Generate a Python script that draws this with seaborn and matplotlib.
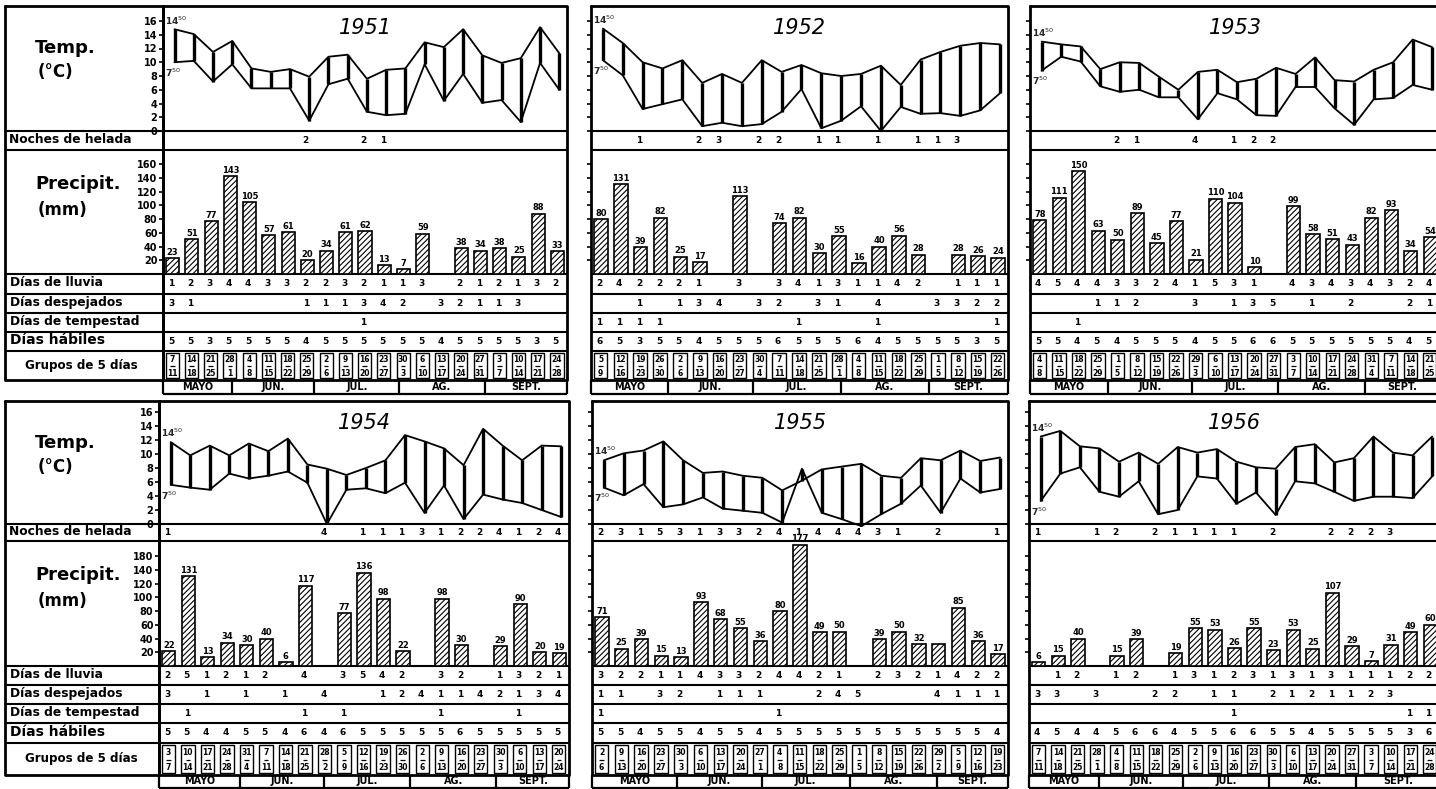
import datetime as dt
import numpy as np
import pandas as pd
import matplotlib
matplotlib.use("Agg")
import matplotlib.pyplot as plt
import seaborn as sns
from matplotlib.patches import Rectangle

W, H = 1436, 789
YEARS = [1951, 1952, 1953, 1954, 1955, 1956]

# lunes del primer grupo de 5 dias de cada campaña
FIRST_MONDAY = {1951: "1951-05-07", 1952: "1952-05-05", 1953: "1953-05-04",
                1954: "1954-05-03", 1955: "1955-05-02", 1956: "1956-05-07"}

# temperatura a las 14.50 y a las 7.50 (ºC), una por grupo
T1450 = {
    1951: [14.8, 14.1, 11.5, 13.1, 9.1, 8.6, 9.0, 7.9, 10.8, 11.1, 7.6, 8.9, 9.1, 12.9, 12.2, 14.8, 11.0, 9.9, 10.6, 15.1, 11.3],
    1952: [14.9, 12.8, 10.0, 9.1, 10.3, 7.0, 8.3, 7.0, 10.3, 8.6, 9.6, 8.4, 8.0, 8.3, 9.5, 6.7, 10.4, 11.5, 12.4, 12.8, 12.6],
    1953: [13.0, 12.6, 12.3, 9.0, 10.0, 9.9, 7.9, 6.0, 8.6, 8.9, 7.1, 7.6, 9.2, 8.3, 10.7, 7.4, 7.2, 8.9, 10.0, 13.3, 12.2],
    1954: [11.7, 9.8, 11.2, 9.8, 11.5, 10.4, 12.2, 8.5, 7.9, 7.0, 8.0, 9.1, 12.7, 11.8, 10.8, 8.4, 13.6, 11.2, 9.1, 11.2, 11.1],
    1955: [9.1, 10.1, 10.5, 11.8, 9.1, 7.3, 7.5, 6.9, 6.6, 4.8, 6.2, 7.8, 8.2, 8.6, 6.9, 6.6, 9.4, 9.1, 10.5, 9.0, 9.5],
    1956: [12.5, 13.3, 11.1, 10.8, 8.9, 10.2, 8.6, 11.0, 10.2, 10.7, 8.9, 8.1, 7.9, 11.0, 11.4, 8.8, 9.4, 12.5, 10.2, 9.8, 12.5],
}
T0750 = {
    1951: [10.0, 10.2, 7.2, 9.7, 6.2, 6.2, 6.2, 1.5, 6.8, 7.6, 2.8, 2.3, 2.5, 9.7, 4.4, 8.3, 4.1, 4.5, 1.3, 9.9, 6.0],
    1952: [10.3, 8.1, 3.2, 3.9, 4.6, 0.7, 1.2, 0.7, 1.0, 2.8, 6.1, 0.4, 1.5, 3.6, 0.0, 3.5, 2.5, 2.6, 2.2, 3.0, 5.5],
    1953: [8.8, 10.8, 10.1, 6.5, 5.7, 6.0, 4.9, 4.9, 1.7, 5.5, 4.6, 2.3, 2.2, 6.4, 6.4, 3.3, 0.9, 4.6, 4.8, 6.7, 6.0],
    1954: [5.6, 5.2, 4.9, 7.2, 6.5, 6.9, 7.5, 5.9, 0.0, 4.9, 5.1, 4.4, 5.9, 1.6, 5.5, 0.7, 4.2, 3.5, 3.0, 2.0, 1.0],
    1955: [5.2, 4.1, 5.7, 2.4, 2.8, 3.8, 2.2, 1.9, 1.6, 0.2, 7.9, 1.6, 0.7, -0.3, 1.4, 2.9, 5.5, 1.6, 6.5, 4.5, 5.0],
    1956: [3.3, 7.2, 8.1, 4.6, 3.9, 6.1, 1.4, 2.0, 6.8, 6.5, 2.9, 4.5, 1.3, 6.1, 5.8, 4.6, 3.3, 3.9, 3.9, 3.7, 6.8],
}

# precipitacion (mm) por grupo, None = sin barra
PRECIP = {
    1951: [23, 51, 77, 143, 105, 57, 61, 20, 34, 61, 62, 13, 7, 59, None, 38, 34, 38, 25, 88, 33],
    1952: [80, 131, 39, 82, 25, 17, None, 113, None, 74, 82, 30, 55, 16, 40, 56, 28, None, 28, 26, 24],
    1953: [78, 111, 150, 63, 50, 89, 45, 77, 21, 110, 104, 10, None, 99, 58, 51, 43, 82, 93, 34, 54],
    1954: [22, 131, 13, 34, 30, 40, 6, 117, None, 77, 136, 98, 22, None, 98, 30, None, 29, 90, 20, 19],
    1955: [71, 25, 39, 15, 13, 93, 68, 55, 36, 80, 177, 49, 50, None, 39, 50, 32, 32, 85, 36, 17],
    1956: [6, 15, 40, None, 15, 39, None, 19, 55, 53, 26, 55, 23, 53, 25, 107, 29, 7, 31, 49, 60],
}
UNLABELED_BARS = {1955: [17]}

# filas de conteo (0 = casilla vacia)
HELADA = {
    1951: [0, 0, 0, 0, 0, 0, 0, 2, 0, 0, 2, 1, 0, 0, 0, 0, 0, 0, 0, 0, 0],
    1952: [0, 0, 1, 0, 0, 2, 3, 0, 2, 2, 0, 1, 1, 0, 1, 0, 1, 1, 3, 0, 0],
    1953: [0, 0, 0, 0, 2, 1, 0, 0, 4, 0, 1, 2, 2, 0, 0, 0, 0, 0, 0, 0, 0],
    1954: [1, 0, 0, 0, 0, 0, 0, 0, 4, 0, 1, 1, 1, 3, 1, 2, 2, 4, 1, 2, 4],
    1955: [2, 3, 1, 5, 3, 1, 3, 3, 2, 4, 1, 4, 4, 4, 3, 1, 0, 2, 0, 0, 1],
    1956: [1, 0, 0, 1, 2, 0, 2, 1, 1, 1, 1, 0, 2, 0, 0, 2, 2, 2, 3, 0, 0],
}
LLUVIA = {
    1951: [1, 2, 3, 4, 4, 3, 3, 2, 2, 3, 2, 1, 1, 3, 0, 2, 1, 2, 1, 3, 2],
    1952: [2, 4, 2, 2, 2, 1, 0, 3, 0, 3, 4, 1, 3, 1, 1, 4, 2, 0, 1, 1, 1],
    1953: [4, 5, 4, 4, 3, 3, 2, 4, 1, 5, 3, 1, 0, 4, 3, 4, 3, 4, 3, 2, 4],
    1954: [2, 5, 1, 2, 1, 2, 0, 4, 0, 3, 5, 4, 2, 0, 3, 2, 0, 1, 3, 2, 1],
    1955: [3, 2, 2, 1, 1, 4, 3, 3, 2, 4, 4, 2, 1, 0, 2, 3, 2, 1, 4, 2, 2],
    1956: [0, 1, 2, 0, 1, 2, 0, 1, 3, 1, 2, 3, 1, 3, 1, 3, 1, 1, 1, 2, 2],
}
DESPEJADOS = {
    1951: [3, 1, 0, 0, 0, 0, 0, 1, 1, 1, 3, 4, 2, 0, 3, 2, 1, 1, 3, 0, 0],
    1952: [0, 0, 1, 0, 1, 3, 4, 0, 3, 2, 0, 3, 1, 0, 4, 0, 0, 3, 3, 2, 2],
    1953: [0, 0, 0, 1, 1, 2, 0, 0, 3, 0, 1, 3, 5, 0, 1, 0, 2, 0, 0, 2, 1],
    1954: [3, 0, 1, 0, 1, 0, 1, 0, 4, 0, 0, 1, 2, 4, 1, 1, 4, 2, 1, 3, 4],
    1955: [1, 1, 0, 3, 2, 0, 1, 1, 1, 0, 0, 2, 4, 5, 0, 0, 0, 4, 1, 1, 1],
    1956: [3, 3, 0, 3, 0, 0, 2, 2, 0, 1, 1, 0, 2, 1, 2, 1, 1, 2, 3, 0, 0],
}
TEMPESTAD = {
    1951: [0, 0, 0, 0, 0, 0, 0, 0, 0, 0, 1, 0, 0, 0, 0, 0, 0, 0, 0, 0, 0],
    1952: [1, 1, 1, 1, 0, 0, 0, 0, 0, 0, 1, 0, 0, 0, 1, 0, 0, 0, 0, 0, 1],
    1953: [0, 0, 1, 0, 0, 0, 0, 0, 0, 0, 0, 0, 0, 0, 0, 0, 0, 0, 0, 0, 0],
    1954: [0, 1, 0, 0, 0, 0, 0, 1, 0, 1, 0, 0, 0, 0, 1, 0, 0, 0, 1, 0, 0],
    1955: [1, 0, 0, 0, 0, 0, 0, 0, 0, 1, 0, 0, 0, 0, 0, 0, 0, 0, 0, 0, 0],
    1956: [0, 0, 0, 0, 0, 0, 0, 0, 0, 0, 1, 0, 0, 0, 0, 0, 0, 0, 0, 1, 1],
}
HABILES = {
    1951: [5, 5, 3, 5, 5, 5, 5, 4, 5, 5, 5, 5, 5, 5, 4, 5, 5, 5, 5, 3, 5],
    1952: [6, 5, 3, 5, 5, 4, 5, 5, 5, 6, 5, 5, 5, 6, 4, 5, 5, 5, 5, 3, 5],
    1953: [5, 5, 4, 5, 4, 5, 5, 5, 4, 5, 5, 6, 6, 5, 5, 5, 5, 5, 5, 4, 5],
    1954: [5, 5, 4, 4, 5, 5, 4, 6, 4, 6, 5, 5, 5, 5, 5, 6, 5, 5, 5, 5, 5],
    1955: [5, 5, 4, 5, 5, 4, 5, 5, 4, 5, 5, 5, 5, 5, 5, 5, 5, 5, 5, 5, 4],
    1956: [4, 5, 4, 4, 5, 6, 6, 4, 5, 5, 6, 6, 5, 5, 4, 5, 5, 5, 5, 3, 6],
}

MONTHS = ["MAYO", "JUN.", "JUL.", "AG.", "SEPT."]
TEMP_TICKS = [0, 2, 4, 6, 8, 10, 12, 14, 16]
PREC_TICKS = [20, 40, 60, 80, 100, 120, 140, 160]
PREC_LABELS = [["20", "40", "60", "80", "100", "120", "140", "160"],
               ["20", "40", "60", "80", "100", "120", "140", "180"]]
ROW_NAMES = ["Días de lluvia", "Días despejados", "Días de tempestad", "Días hábiles"]

# geometria en pixeles
ROW_GEOM = [
    dict(top=6, zero=131, frost=150, base=274, lines=[294, 313, 332, 351], grp=380, mon=394, y16=21),
    dict(top=401, zero=524, frost=541, base=666, lines=[685, 704, 723, 743], grp=775, mon=788, y16=412),
]
PANEL_X = [[(163, 567), (591, 1008), (1030, 1440)],
           [(159, 569), (592, 1008), (1029, 1440)]]
PX_PER_MM = 0.686

sns.set_theme(style="white")
plt.rcParams["font.family"] = ["DejaVu Sans"]
plt.rcParams["hatch.linewidth"] = 0.8
plt.rcParams["hatch.color"] = "black"

fig = plt.figure(figsize=(W / 100, H / 100), dpi=100)
fig.patch.set_facecolor("white")


def px_axes(x0, y0, x1, y1):
    ax = fig.add_axes([x0 / W, 1 - y1 / H, (x1 - x0) / W, (y1 - y0) / H])
    ax.set_facecolor("none")
    for s in ax.spines.values():
        s.set_visible(False)
    return ax


def label_column(g, x1):
    ax = px_axes(5, g["top"], x1, g["grp"])
    ax.set_xlim(5, x1)
    ax.set_ylim(g["grp"], g["top"])
    ax.axis("off")
    ax.plot([5, x1, x1, 5, 5], [g["top"], g["top"], g["grp"], g["grp"], g["top"]],
            color="black", lw=2, clip_on=False)
    for y in [g["zero"], g["frost"], g["base"]] + g["lines"]:
        ax.hlines(y, 5, x1, color="black", lw=1.5)
    kw = dict(fontweight="bold", color="black", va="center", ha="left")
    ax.text(35, g["top"] + 42, "Temp.", fontsize=13, **kw)
    ax.text(38, g["top"] + 66, "(°C)", fontsize=12, **kw)
    ax.text(9, (g["zero"] + g["frost"]) / 2 - 1, "Noches de helada", fontsize=8.8, **kw)
    ax.text(35, g["frost"] + 34, "Precipit.", fontsize=13, **kw)
    ax.text(38, g["frost"] + 60, "(mm)", fontsize=12, **kw)
    edges = [g["base"]] + g["lines"]
    for k, name in enumerate(ROW_NAMES):
        ax.text(10, (edges[k] + edges[k + 1]) / 2 - 1, name,
                fontsize=10 if k == 3 else 8.8, **kw)
    ax.text(25, (g["lines"][-1] + g["grp"]) / 2, "Grupos de 5 días", fontsize=8.6, **kw)


def draw_panel(year, r, c):
    g = ROW_GEOM[r]
    x0, x1 = PANEL_X[r][c]
    n = len(T1450[year])
    pos = np.arange(n, dtype=float)
    d0 = dt.date.fromisoformat(FIRST_MONDAY[year])

    bg = px_axes(x0, g["top"], x1, g["mon"])
    bg.set_xlim(-0.5, n - 0.5)
    bg.set_ylim(g["mon"], g["top"])
    bg.axis("off")
    bg.plot([-0.5, n - 0.5, n - 0.5, -0.5, -0.5],
            [g["top"], g["top"], g["grp"], g["grp"], g["top"]],
            color="black", lw=2, clip_on=False)
    for y in [g["zero"], g["frost"], g["base"]] + g["lines"]:
        bg.hlines(y, -0.5, n - 0.5, color="black", lw=1.5)

    bg.text((n - 1) / 2, g["top"] + 22, str(year), fontsize=15, fontstyle="italic",
            ha="center", va="center", color="black")

    num = dict(fontsize=6.5, fontweight="bold", ha="center", va="center", color="black")
    fy = (g["zero"] + g["frost"]) / 2
    for i, v in enumerate(HELADA[year]):
        if v:
            bg.text(i - 0.08, fy, str(v), **num)
    edges = [g["base"]] + g["lines"]
    for k, series in enumerate([LLUVIA, DESPEJADOS, TEMPESTAD, HABILES]):
        ry = (edges[k] + edges[k + 1]) / 2
        for i, v in enumerate(series[year]):
            if v:
                bg.text(i - 0.08, ry, str(v), **num)

    # grupos de 5 dias
    top_g, bot_g = g["lines"][-1], g["grp"]
    hg = bot_g - top_g
    small = dict(fontsize=5.5, fontweight="bold", ha="center", va="center", color="black")
    for i in range(n):
        start = d0 + dt.timedelta(days=7 * i)
        end = start + dt.timedelta(days=4)
        bg.add_patch(Rectangle((i - 0.36, top_g + 2), 0.68, hg - 4, fill=False,
                               ec="black", lw=1.0))
        bg.text(i - 0.02, top_g + hg * 0.3, str(start.day), **small)
        bg.hlines(top_g + hg * 0.52, i - 0.14, i + 0.1, color="black", lw=0.9)
        bg.text(i - 0.02, top_g + hg * 0.77, str(end.day), **small)

    # meses
    def xdate(d):
        return -0.5 + (d - d0).days / 7
    bounds = [-0.5] + [xdate(dt.date(year, m, 1)) for m in (6, 7, 8, 9)] + [n - 0.5]
    bg.hlines(g["mon"], -0.5, n - 0.5, color="black", lw=1.6, clip_on=False)
    bg.vlines(bounds, g["grp"], g["mon"], color="black", lw=1.6, clip_on=False)
    for m, name in enumerate(MONTHS):
        a, b = bounds[m], bounds[m + 1]
        bg.text((a + b) / 2, (g["grp"] + g["mon"]) / 2, name, fontsize=7,
                fontweight="bold", ha="center", va="center", color="black")

    # temperatura
    axt = px_axes(x0, g["top"], x1, g["zero"])
    tmax = 16 * (g["zero"] - g["top"]) / (g["zero"] - g["y16"])
    tdf = pd.DataFrame({"pos": pos + 0.1, "t1450": T1450[year], "t0750": T0750[year]})
    sns.lineplot(data=tdf, x="pos", y="t1450", color="black", linewidth=1.3, ax=axt, clip_on=False)
    sns.lineplot(data=tdf, x="pos", y="t0750", color="black", linewidth=1.3, ax=axt, clip_on=False)
    axt.vlines(tdf["pos"], tdf["t0750"], tdf["t1450"], color="black", lw=2.4, clip_on=False)
    axt.text(-0.42, tdf["t1450"].iloc[0] + 1.3, "14$^{50}$", fontsize=6.5,
             fontweight="bold", ha="left", va="center")
    axt.text(-0.42, tdf["t0750"].iloc[0] - 1.5, "7$^{50}$", fontsize=6.5,
             fontweight="bold", ha="left", va="center")
    axt.set_xlim(-0.5, n - 0.5)
    axt.set_ylim(0, tmax)
    axt.set_yticks(TEMP_TICKS)
    axt.set_xticks([])
    axt.set_xlabel("")
    axt.set_ylabel("")
    axt.tick_params(axis="y", left=True, length=3, width=1.2, direction="out", pad=1,
                    labelsize=7, labelleft=(c == 0), colors="black")
    for t in axt.get_yticklabels():
        t.set_fontweight("bold")

    # precipitacion
    axp = px_axes(x0, g["frost"], x1, g["base"])
    pdf = pd.DataFrame({"pos": pos, "mm": PRECIP[year]}).dropna()
    sns.barplot(data=pdf, x="pos", y="mm", native_scale=True, width=0.68, color="white",
                saturation=1, edgecolor="black", linewidth=1.2, errorbar=None, ax=axp)
    for p in axp.patches:
        p.set_hatch("//////")
    skip = UNLABELED_BARS.get(year, [])
    for x, v in zip(pdf["pos"], pdf["mm"]):
        if int(x) in skip:
            continue
        axp.text(x, v + 2, str(int(v)), fontsize=6, fontweight="bold",
                 ha="center", va="bottom", color="black")
    axp.set_xlim(-0.5, n - 0.5)
    axp.set_ylim(0, (g["base"] - g["frost"]) / PX_PER_MM)
    axp.set_yticks(PREC_TICKS)
    axp.set_yticklabels(PREC_LABELS[r])
    axp.set_xticks([])
    axp.set_xlabel("")
    axp.set_ylabel("")
    axp.tick_params(axis="y", left=True, length=3, width=1.2, direction="out", pad=1,
                    labelsize=7, labelleft=(c == 0), colors="black")
    for t in axp.get_yticklabels():
        t.set_fontweight("bold")


for r in range(2):
    label_column(ROW_GEOM[r], PANEL_X[r][0][0])
    for c in range(3):
        draw_panel(YEARS[r * 3 + c], r, c)

fig.savefig("out.png", dpi=100, facecolor="white")
